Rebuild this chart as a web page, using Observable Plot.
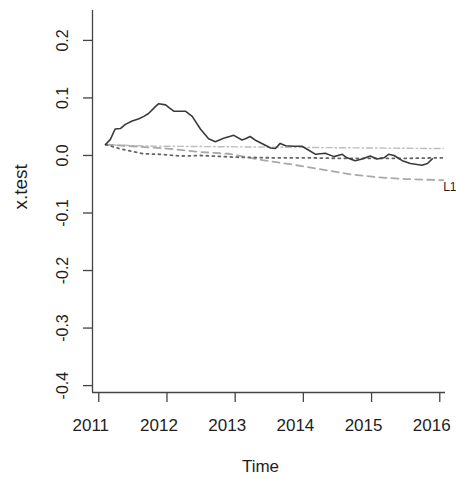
<!DOCTYPE html>
<html>
<head>
<meta charset="utf-8">
<script src="https://cdn.jsdelivr.net/npm/d3@7"></script>
<script src="https://cdn.jsdelivr.net/npm/@observablehq/plot@0.6"></script>
<style>
  html, body { margin: 0; padding: 0; background: #fff; }
  #chart { width: 456px; height: 479px; }
</style>
</head>
<body>
<div id="chart"></div>
<script>
// ---- data ----
const xTicks = [2011, 2012, 2013, 2014, 2015, 2016];
const yTicks = [-0.4, -0.3, -0.2, -0.1, 0.0, 0.1, 0.2];

// x.test (solid)
const testTime = [2011.10, 2011.17, 2011.24, 2011.32, 2011.39, 2011.49, 2011.59, 2011.66, 2011.73, 2011.83,
  2011.88, 2011.98, 2012.03, 2012.10, 2012.27, 2012.37, 2012.49, 2012.61, 2012.71, 2012.83,
  2012.98, 2013.10, 2013.15, 2013.22, 2013.29, 2013.42, 2013.52, 2013.59, 2013.66, 2013.74,
  2013.86, 2013.98, 2014.08, 2014.18, 2014.32, 2014.45, 2014.57, 2014.64, 2014.76, 2014.86,
  2014.98, 2015.08, 2015.18, 2015.25, 2015.33, 2015.45, 2015.57, 2015.74, 2015.82, 2015.89];
const testValue = [0.019, 0.028, 0.046, 0.047, 0.054, 0.060, 0.064, 0.068, 0.073, 0.085,
  0.090, 0.088, 0.083, 0.077, 0.077, 0.068, 0.046, 0.029, 0.024, 0.030,
  0.035, 0.027, 0.029, 0.033, 0.027, 0.019, 0.013, 0.012, 0.021, 0.017,
  0.016, 0.016, 0.009, 0.002, 0.004, -0.002, 0.002, -0.004, -0.009, -0.006,
  -0.001, -0.006, -0.004, 0.002, 0.000, -0.009, -0.014, -0.017, -0.014, -0.006];

// dot-dash light forecast
const fcAT = [2011.10, 2011.50, 2012.00, 2013.00, 2014.00, 2015.00, 2016.05];
const fcAV = [0.019, 0.017, 0.016, 0.015, 0.014, 0.013, 0.012];

// dotted dark forecast
const fcBT = [2011.10, 2011.30, 2011.65, 2011.90, 2012.20, 2012.50, 2013.00, 2013.50, 2014.00, 2014.50, 2015.00, 2015.50, 2016.05];
const fcBV = [0.019, 0.012, 0.003, 0.002, -0.001, 0.000, -0.003, -0.004, -0.004, -0.005, -0.005, -0.005, -0.004];

// long-dash light forecast (L1)
const fcLT = [2011.10, 2011.50, 2012.00, 2012.50, 2012.90, 2013.40, 2013.90, 2014.30, 2014.70, 2015.10, 2015.50, 2016.05];
const fcLV = [0.019, 0.016, 0.012, 0.006, 0.003, -0.008, -0.017, -0.025, -0.033, -0.038, -0.041, -0.043];
const labelL1 = "L1";

const xDomain = [2010.908, 2016.084];
const yDomain = [-0.412, 0.252];

const zip = (t, v) => t.map((d, i) => ({t: d, v: v[i]}));
const test = zip(testTime, testValue);
const fcA = zip(fcAT, fcAV);
const fcB = zip(fcBT, fcBV);
const fcL = zip(fcLT, fcLV);

const font = "Liberation Sans, Arial, Helvetica, sans-serif";
const ink = "#1e1e1e";

const chart = Plot.plot({
  width: 456,
  height: 479,
  marginLeft: 92,
  marginRight: 11,
  marginTop: 10,
  marginBottom: 87,
  style: {fontFamily: font, background: "#fff", color: ink, overflow: "visible"},
  x: {domain: xDomain, axis: null},
  y: {domain: yDomain, axis: null},
  marks: [
    Plot.ruleX([xDomain[0]], {stroke: "#444", strokeWidth: 1.3}),
    Plot.ruleY([yDomain[0]], {stroke: "#444", strokeWidth: 1.3}),
    Plot.axisY({ticks: yTicks, tickSize: 9, tickFormat: () => "", label: null, stroke: "#444", strokeWidth: 1.3}),
    Plot.axisX({ticks: xTicks, tickSize: 10, tickFormat: () => "", label: null, stroke: "#444", strokeWidth: 1.3}),
    Plot.text(yTicks, {x: () => xDomain[0], y: d => d, text: d => d.toFixed(1), rotate: -90,
      dx: -29.5, fontSize: 16, textAnchor: "middle", lineAnchor: "middle", fill: ink}),
    Plot.text(xTicks, {x: d => d, y: () => yDomain[0], text: d => String(d),
      dx: -8, dy: 33, fontSize: 17, textAnchor: "middle", lineAnchor: "middle", fill: ink}),
    Plot.text(["Time"], {frameAnchor: "bottom", dy: 74, dx: -8.5, fontSize: 17, lineAnchor: "middle", fill: ink}),
    Plot.text(["x.test"], {frameAnchor: "left", dx: -72, dy: 8, rotate: -90, fontSize: 19, lineAnchor: "middle", fill: ink}),
    Plot.line(fcA, {x: "t", y: "v", stroke: "#bdbdbd", strokeWidth: 1.4, strokeDasharray: "1.5,3,6,3"}),
    Plot.line(fcL, {x: "t", y: "v", stroke: "#a9a9a9", strokeWidth: 1.8, strokeDasharray: "7,5"}),
    Plot.line(fcB, {x: "t", y: "v", stroke: "#666", strokeWidth: 1.8, strokeDasharray: "2,4"}),
    Plot.line(test, {x: "t", y: "v", stroke: "#3a3a3a", strokeWidth: 1.6}),
    Plot.text([fcL[fcL.length - 1]], {x: "t", y: "v", text: () => labelL1, dy: 7, dx: 0,
      textAnchor: "start", lineAnchor: "middle", fontSize: 12, fill: ink})
  ]
});
document.getElementById("chart").appendChild(chart);
</script>
</body>
</html>
